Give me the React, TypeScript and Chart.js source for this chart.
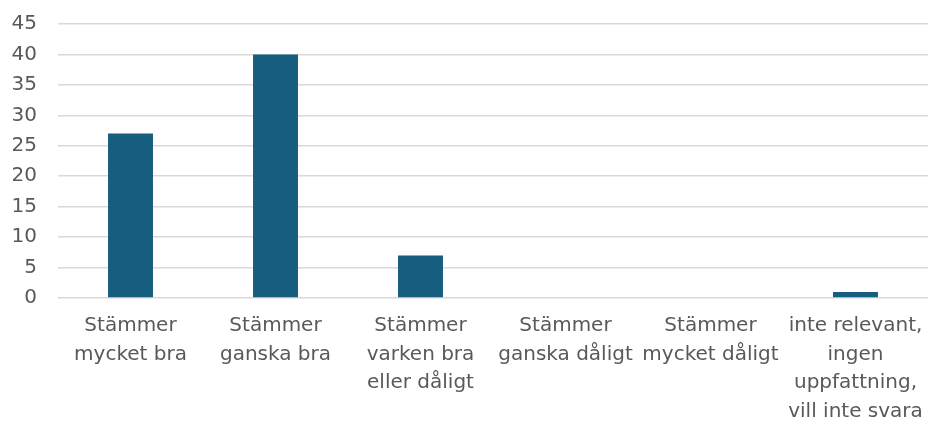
import React, { useEffect, useRef } from "react";
import { Chart, registerables } from "chart.js";

Chart.register(...registerables);

const categories: string[][] = [
  ["Stämmer", "mycket bra"],
  ["Stämmer", "ganska bra"],
  ["Stämmer", "varken bra", "eller dåligt"],
  ["Stämmer", "ganska dåligt"],
  ["Stämmer", "mycket dåligt"],
  ["inte relevant,", "ingen", "uppfattning,", "vill inte svara"],
];
const values: number[] = [27, 40, 7, 0, 0, 1];
const yMin = 0;
const yMax = 45;
const yStep = 5;

export default function App() {
  const ref = useRef<HTMLCanvasElement | null>(null);
  useEffect(() => {
    document.body.style.margin = "0";
    if (!ref.current) return;
    const chart = new Chart(ref.current, {
      type: "bar",
      data: {
        labels: categories,
        datasets: [
          {
            data: values,
            backgroundColor: "#175d7f",
            barPercentage: 0.31,
            categoryPercentage: 1,
          },
        ],
      },
      options: {
        animation: false,
        responsive: false,
        maintainAspectRatio: false,
        layout: { padding: { top: 24, left: 12, right: 4, bottom: 0 } },
        plugins: { legend: { display: false }, tooltip: { enabled: false } },
        scales: {
          x: {
            grid: { display: false },
            border: { display: false },
            afterFit: (s: any) => {
              s.paddingLeft = 0;
              s.paddingRight = 0;
              s.height = 128;
            },
            ticks: {
              color: "#595959",
              font: { family: "DejaVu Sans", size: 20, lineHeight: 1.42 },
              maxRotation: 0,
              minRotation: 0,
              autoSkip: false,
              padding: 6,
            },
          },
          y: {
            min: yMin,
            max: yMax,
            grid: { color: "#d9d9d9", lineWidth: 1.5, drawTicks: false },
            border: { display: false },
            afterFit: (s: any) => {
              s.paddingTop = 0;
              s.paddingBottom = 0;
              s.width = 46;
            },
            ticks: {
              stepSize: yStep,
              color: "#595959",
              font: { family: "DejaVu Sans", size: 20 },
              padding: 21,
            },
          },
        },
      },
    });
    return () => chart.destroy();
  }, []);
  return (
    <div style={{ position: "absolute", left: 0, top: 0, width: 932, height: 426 }}>
      <canvas ref={ref} width={932} height={426} />
    </div>
  );
}
